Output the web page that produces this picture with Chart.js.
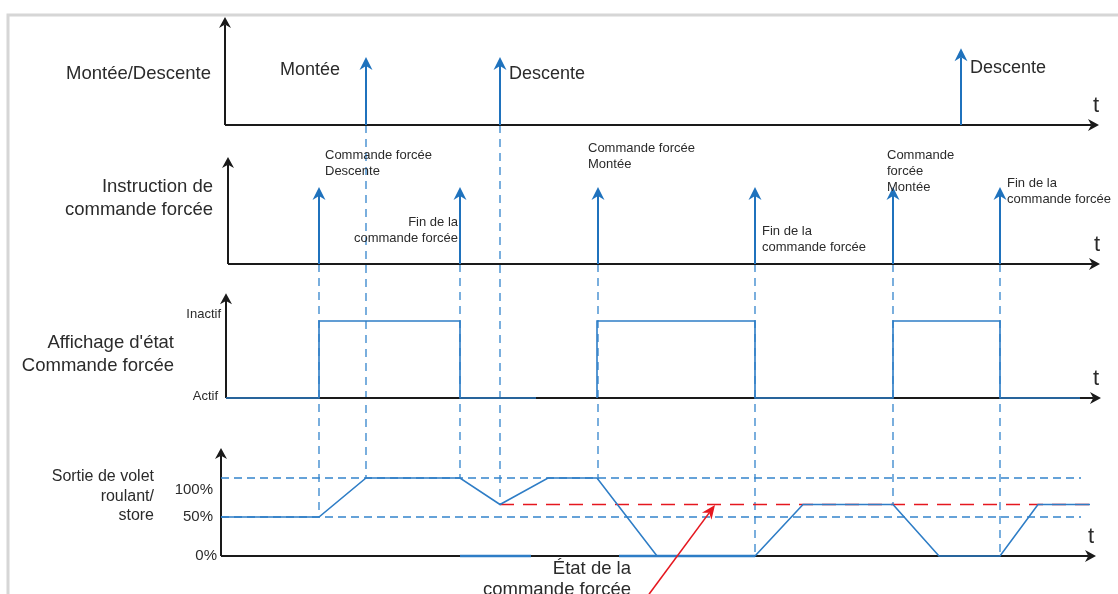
<!DOCTYPE html>
<html>
<head>
<meta charset="utf-8">
<script src="https://cdn.jsdelivr.net/npm/chart.js@4.4.1/dist/chart.umd.min.js"></script>
<style>
  html, body { margin: 0; padding: 0; background: #fff; }
  #wrap { width: 1118px; height: 594px; position: relative; }
</style>
</head>
<body>
<div id="wrap"><canvas id="timing"></canvas></div>
<script>
// time in arbitrary units
const upDownTimes = [14.0, 27.4, 73.5];
const upDownHeights = [1, 1, 1.13];
const upDownLinked = [true, true, false];
const upDownLabels = ['Montée', 'Descente', 'Descente'];

const forcedTimes = [9.3, 23.4, 37.2, 52.9, 66.7, 77.4];

// status display : 0 = Actif, 1 = Inactif (null = no line)
const statusTimes  = [0, 9.3, 9.3, 23.4, 23.4, 31.0, 34.0, 37.1, 37.1, 52.9, 52.9, 66.7, 66.7, 77.4, 77.4, 85.4];
const statusValues = [0, 0,   1,   1,    0,    0,    null, 0,    1,    1,    0,    0,    1,    1,    0,    0];
const statusTicks = [0, 1];
const statusTickLabels = ['Actif', 'Inactif'];

// shutter / blind output in %
const outputTimes  = [-0.5, 9.3, 14.0, 23.4, 27.4, 32.2, 37.1, 43.1, 52.9, 57.7, 66.7, 71.3, 77.4, 81.2, 86.4];
const outputValues = [50,   50,  100,  100,  66,   100,  100,  0,    0,    66,   66,   0,    0,    66,   66];
const pctTicks = [0, 50, 100];
const pctTickLabels = ['0%', '50%', '100%'];

// forced command state, drawn on the 0% line
const forcedStateTimes  = [23.4, 30.5, 35.0, 39.3, 52.9];
const forcedStateValues = [0,    0,    null, 0,    0];

const forcedLevel = 66;
const forcedLevelFrom = 27.4;
const forcedLevelTo = 86.4;
const refFrom = -0.5;
const refTo = 85.5;

// ---- layout ----
const W = 1118, H = 594;
const X0_PX = 226, PX_PER_T = 10;
function bandScale(zeroPx, refPx, refVal) {
  const k = (zeroPx - refPx) / refVal;
  return { min: (zeroPx - H) / k, max: zeroPx / k };
}

const BLUE = '#2e7dc6';
const ARROW_BLUE = '#1f72bd';
const DASH_BLUE = '#3384cc';
const RED = '#e5171f';
const TEXT = '#2b2b2b';
const FONT = "'Liberation Sans', Arial, sans-serif";

const panelAxes = [
  { y: 'y1', from: -0.1, to: 87.3, top: 1.59, tx: 1096 },
  { y: 'y2', from: 0.2, to: 87.4, top: 1.39, tx: 1097 },
  { y: 'y3', from: 0.0, to: 87.5, top: 1.36, tx: 1096 },
  { y: 'y4', from: -0.5, to: 87.0, top: 138.5, tx: 1091 }
];

const forcedNotes = [
  { lines: ['Commande forcée', 'Descente'], t: 9.9, v: 1.416, align: 'left' },
  { lines: ['Fin de la', 'commande forcée'], t: 23.2, v: 0.545, align: 'right' },
  { lines: ['Commande forcée', 'Montée'], t: 36.2, v: 1.506, align: 'left' },
  { lines: ['Fin de la', 'commande forcée'], t: 53.6, v: 0.429, align: 'left' },
  { lines: ['Commande', 'forcée', 'Montée'], t: 66.1, v: 1.416, align: 'left' },
  { lines: ['Fin de la', 'commande forcée'], t: 78.1, v: 1.052, align: 'left' }
];
const upDownNotes = [
  { t: 5.4, v: 0.809 },
  { t: 28.3, v: 0.75 },
  { t: 74.4, v: 0.838 }
];

const sideLabels = [
  { lines: ['Montée/Descente'], x: 211, y: 74, size: 18.5, lh: 23 },
  { lines: ['Instruction de', 'commande forcée'], x: 213, y: 187, size: 18.5, lh: 23 },
  { lines: ["Affichage d'état", 'Commande forcée'], x: 174, y: 343, size: 18.5, lh: 23 },
  { lines: ['Sortie de volet', 'roulant/', 'store'], x: 154, y: 477, size: 16, lh: 19.5 }
];

function outputAt(t) {
  for (let i = 0; i < outputTimes.length - 1; i++) {
    if (t >= outputTimes[i] && t <= outputTimes[i + 1]) {
      const f = (t - outputTimes[i]) / (outputTimes[i + 1] - outputTimes[i]);
      return outputValues[i] + f * (outputValues[i + 1] - outputValues[i]);
    }
  }
  return outputValues[outputValues.length - 1];
}

function pts(xs, ys) {
  return xs.map((x, i) => ({ x: x, y: ys[i] }));
}

function arrowHead(ctx, fx, fy, tx, ty, len, half, color) {
  const a = Math.atan2(ty - fy, tx - fx);
  const c = Math.cos(a), s = Math.sin(a);
  ctx.save();
  ctx.fillStyle = color;
  ctx.beginPath();
  ctx.moveTo(tx, ty);
  ctx.lineTo(tx - len * c - half * s, ty - len * s + half * c);
  ctx.lineTo(tx - len * 0.7 * c, ty - len * 0.7 * s);
  ctx.lineTo(tx - len * c + half * s, ty - len * s - half * c);
  ctx.closePath();
  ctx.fill();
  ctx.restore();
}

function arrow(ctx, fx, fy, tx, ty, color, width, len, half) {
  const a = Math.atan2(ty - fy, tx - fx);
  ctx.save();
  ctx.strokeStyle = color;
  ctx.lineWidth = width;
  ctx.beginPath();
  ctx.moveTo(fx, fy);
  ctx.lineTo(tx - Math.cos(a) * len * 0.7, ty - Math.sin(a) * len * 0.7);
  ctx.stroke();
  ctx.restore();
  arrowHead(ctx, fx, fy, tx, ty, len, half, color);
}

function text(ctx, lines, x, y, size, lh, align) {
  ctx.save();
  ctx.fillStyle = TEXT;
  ctx.font = size + 'px ' + FONT;
  ctx.textAlign = align;
  ctx.textBaseline = 'middle';
  lines.forEach((l, i) => ctx.fillText(l, x, y + i * lh));
  ctx.restore();
}

const diagram = {
  id: 'diagram',
  beforeDatasetsDraw(chart) {
    const { ctx, scales } = chart;
    const xs = scales.x;

    // light frame
    ctx.save();
    ctx.strokeStyle = '#d6d6d6';
    ctx.lineWidth = 3;
    ctx.beginPath();
    ctx.moveTo(8, H);
    ctx.lineTo(8, 15);
    ctx.lineTo(W, 15);
    ctx.stroke();
    ctx.restore();

    // dashed links down to the output
    const y4 = scales.y4;
    ctx.save();
    ctx.strokeStyle = DASH_BLUE;
    ctx.lineWidth = 1.3;
    ctx.setLineDash([8, 6]);
    upDownTimes.forEach((t, i) => {
      if (!upDownLinked[i]) return;
      const px = xs.getPixelForValue(t);
      ctx.beginPath();
      ctx.moveTo(px, scales.y1.getPixelForValue(0));
      ctx.lineTo(px, y4.getPixelForValue(outputAt(t)));
      ctx.stroke();
    });
    forcedTimes.forEach(t => {
      const px = xs.getPixelForValue(t);
      ctx.beginPath();
      ctx.moveTo(px, scales.y2.getPixelForValue(0));
      ctx.lineTo(px, y4.getPixelForValue(outputAt(t)));
      ctx.stroke();
    });
    ctx.restore();

    // axes with arrows
    panelAxes.forEach(a => {
      const ys = scales[a.y];
      const ox = xs.getPixelForValue(a.from);
      const oy = ys.getPixelForValue(0);
      arrow(ctx, ox, oy, ox, ys.getPixelForValue(a.top), '#1a1a1a', 2, 11, 6);
      arrow(ctx, ox, oy, xs.getPixelForValue(a.to), oy, '#1a1a1a', 2, 11, 6);
      text(ctx, ['t'], a.tx, oy - 19, 22, 0, 'center');
    });
  },
  afterDatasetsDraw(chart) {
    const { ctx, scales } = chart;
    const xs = scales.x;

    // up / down commands
    upDownTimes.forEach((t, i) => {
      const px = xs.getPixelForValue(t);
      arrow(ctx, px, scales.y1.getPixelForValue(0), px, scales.y1.getPixelForValue(upDownHeights[i]), ARROW_BLUE, 2, 13, 6.5);
      text(ctx, [upDownLabels[i]], xs.getPixelForValue(upDownNotes[i].t), scales.y1.getPixelForValue(upDownNotes[i].v), 18, 0, 'left');
    });

    // forced command instructions
    forcedTimes.forEach(t => {
      const px = xs.getPixelForValue(t);
      arrow(ctx, px, scales.y2.getPixelForValue(0), px, scales.y2.getPixelForValue(1), ARROW_BLUE, 2, 13, 6.5);
    });
    forcedNotes.forEach(n => {
      text(ctx, n.lines, xs.getPixelForValue(n.t), scales.y2.getPixelForValue(n.v), 13, 16, n.align);
    });

    // tick labels
    const y3 = scales.y3, y4 = scales.y4;
    text(ctx, [statusTickLabels[1]], 221, y3.getPixelForValue(statusTicks[1]) - 7, 13, 0, 'right');
    text(ctx, [statusTickLabels[0]], 218, y3.getPixelForValue(statusTicks[0]) - 2, 13, 0, 'right');
    text(ctx, [pctTickLabels[2]], 213, y4.getPixelForValue(pctTicks[2]) + 12, 15, 0, 'right');
    text(ctx, [pctTickLabels[1]], 213, y4.getPixelForValue(pctTicks[1]), 15, 0, 'right');
    text(ctx, [pctTickLabels[0]], 217, y4.getPixelForValue(pctTicks[0]), 15, 0, 'right');

    // side labels
    sideLabels.forEach(s => text(ctx, s.lines, s.x, s.y, s.size, s.lh, 'right'));

    // forced state callout
    text(ctx, ['État de la', 'commande forcée'], 631, 569, 18.5, 21, 'right');
    arrow(ctx, xs.getPixelForValue(42.3), y4.getPixelForValue(-49), xs.getPixelForValue(48.9), y4.getPixelForValue(65.4), RED, 1.6, 14, 6);
  }
};

const ctx = document.getElementById('timing').getContext('2d');
const timingChart = new Chart(ctx, {
  type: 'scatter',
  data: {
    datasets: [
      {
        label: 'Sortie',
        data: pts(outputTimes, outputValues),
        yAxisID: 'y4',
        showLine: true,
        borderColor: BLUE,
        borderWidth: 1.6,
        pointRadius: 0,
        order: 0
      },
      {
        label: 'Affichage',
        data: pts(statusTimes, statusValues),
        yAxisID: 'y3',
        showLine: true,
        borderColor: BLUE,
        borderWidth: 1.6,
        pointRadius: 0,
        order: 1
      },
      {
        label: 'État forcé',
        data: pts(forcedStateTimes, forcedStateValues),
        yAxisID: 'y4',
        showLine: true,
        borderColor: BLUE,
        borderWidth: 2.4,
        pointRadius: 0,
        order: 2
      },
      {
        label: 'Position forcée',
        data: [{ x: forcedLevelFrom, y: forcedLevel }, { x: forcedLevelTo, y: forcedLevel }],
        yAxisID: 'y4',
        showLine: true,
        borderColor: RED,
        borderWidth: 1.4,
        borderDash: [14, 9],
        pointRadius: 0,
        order: 3
      },
      {
        label: '100%',
        data: [{ x: refFrom, y: pctTicks[2] }, { x: refTo, y: pctTicks[2] }],
        yAxisID: 'y4',
        showLine: true,
        borderColor: DASH_BLUE,
        borderWidth: 1.3,
        borderDash: [8, 5],
        pointRadius: 0,
        order: 4
      },
      {
        label: '50%',
        data: [{ x: refFrom, y: pctTicks[1] }, { x: refTo, y: pctTicks[1] }],
        yAxisID: 'y4',
        showLine: true,
        borderColor: DASH_BLUE,
        borderWidth: 1.3,
        borderDash: [8, 5],
        pointRadius: 0,
        order: 5
      }
    ]
  },
  options: {
    responsive: true,
    maintainAspectRatio: false,
    animation: false,
    layout: { padding: 0 },
    plugins: { legend: { display: false }, tooltip: { enabled: false } },
    scales: {
      x: { type: 'linear', display: false, min: -X0_PX / PX_PER_T, max: (W - X0_PX) / PX_PER_T },
      y: { display: false },
      y1: Object.assign({ type: 'linear', display: false }, bandScale(125, 57, 1)),
      y2: Object.assign({ type: 'linear', display: false }, bandScale(264, 187, 1)),
      y3: Object.assign({ type: 'linear', display: false }, bandScale(398, 321, 1)),
      y4: Object.assign({ type: 'linear', display: false }, bandScale(556, 478, 100))
    }
  },
  plugins: [diagram]
});
</script>
</body>
</html>
